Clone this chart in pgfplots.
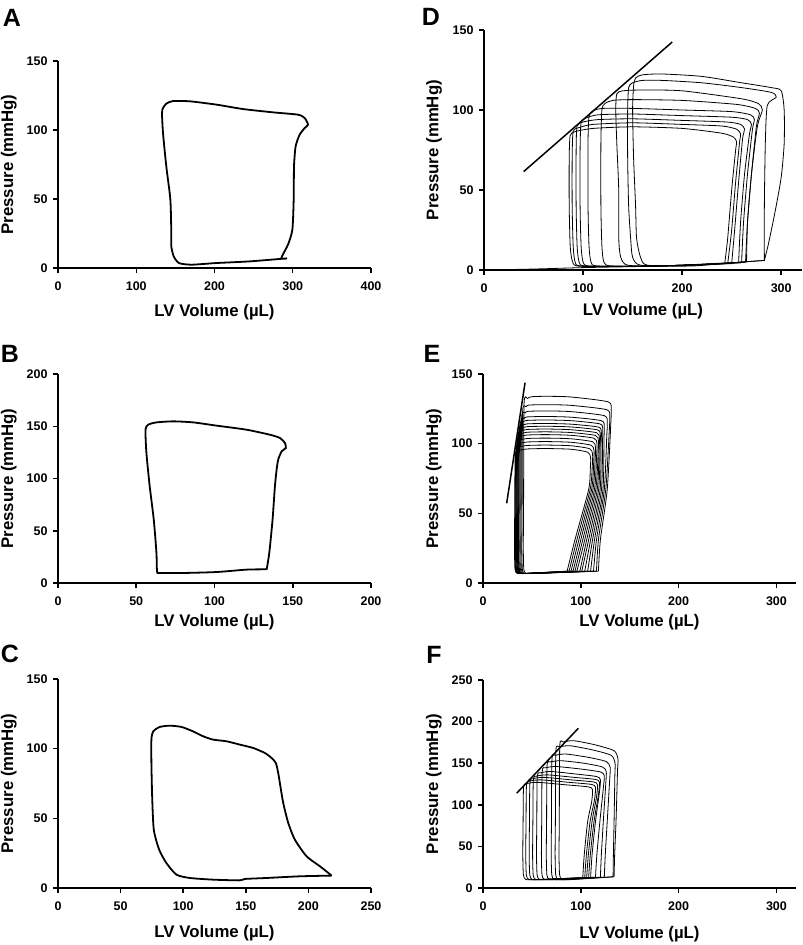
\documentclass[border=0pt]{standalone}
\usepackage{fontspec}
\setmainfont{Liberation Sans}
\usepackage{pgfplots}
\pgfplotsset{compat=1.18}

\pgfplotsset{
  pv/.style={
    scale only axis, anchor=south west,
    axis lines=left, axis line style={-, line width=2pt},
    tick align=outside, major tick length=5pt,
    tick style={line width=1.5pt, black},
    ticklabel style={font=\fontsize{12.5}{12.5}\bfseries\selectfont},
    xticklabel style={yshift=-5pt},
    yticklabel style={xshift=-2pt},
    /pgf/number format/assume math mode=true,
    label style={font=\fontsize{16.8}{17}\bfseries\selectfont},
    xlabel={LV Volume (µL)}, ylabel={Pressure (mmHg)},
    xmin=0, ymin=0, clip=false,
  },
  thick loop/.style={black, line width=1.8pt, smooth, tension=0.4},
  thin loop/.style={black, line width=0.8pt, smooth, tension=0.4},
  espvr/.style={black, line width=1.5pt},
}
\newcommand{\panel}[1]{\fontsize{25}{25}\bfseries\selectfont #1}

\begin{document}
\begin{tikzpicture}
\useasboundingbox (0pt,0pt) rectangle (803pt,-945pt);

% panel letters
\node[inner sep=0] at (12pt,-18pt) {\panel{A}};
\node[inner sep=0] at (431pt,-17pt) {\panel{D}};
\node[inner sep=0] at (10pt,-354pt) {\panel{B}};
\node[inner sep=0] at (432pt,-354pt) {\panel{E}};
\node[inner sep=0] at (10pt,-654pt) {\panel{C}};
\node[inner sep=0] at (434pt,-655pt) {\panel{F}};

% A
\begin{axis}[pv, at={(58pt,-268pt)}, width=313pt, height=207pt,
  xmax=400, ymax=150, xtick={0,100,...,400}, ytick={0,50,...,150},
  xlabel style={at={(axis description cs:0.5,-0.211)}, anchor=center},
  ylabel style={at={(axis description cs:-0.157,0.5)}, anchor=center}]
\addplot[thick loop] coordinates {
 (292.7,7.0) (285.4,7.2) (293.9,16.9) (299.5,27.8) (301.2,49.5) (301.6,73.7)
 (303.7,88.2) (308.8,96.6) (315.2,101.4) (319.5,103.9) (315.2,108.7) (306.7,111.1)
 (274.8,112.8) (236.4,115.2) (202.3,118.4) (168.3,120.8) (147.0,121.0) (138.4,119.1)
 (134.2,115.9) (132.9,112.3) (134.2,97.8) (138.4,73.7) (143.6,49.5) (144.8,25.4)
 (144.8,15.7) (147.8,8.5) (154.6,3.6) (170.4,2.4) (202.3,3.6) (244.9,4.8) (292.7,7.0)};
\end{axis}

% B
\begin{axis}[pv, at={(58pt,-583pt)}, width=313pt, height=209pt,
  xmax=200, ymax=200, xtick={0,50,...,200}, ytick={0,50,...,200},
  xlabel style={at={(axis description cs:0.5,-0.185)}, anchor=center},
  ylabel style={at={(axis description cs:-0.157,0.5)}, anchor=center}]
\addplot[thick loop] coordinates {
 (133.3,12.8) (135.0,28.7) (137.1,60.6) (138.6,92.5) (139.7,108.5) (140.7,118.0)
 (142.9,126.0) (145.6,129.2) (145.0,134.0) (141.8,138.8) (135.4,141.9) (120.5,146.7)
 (101.3,150.6) (86.4,153.7) (73.6,154.7) (62.9,153.7) (57.6,151.5) (55.9,146.7)
 (56.5,124.4) (58.6,92.5) (61.2,60.6) (62.9,28.7) (63.3,11.2) (65.0,9.6)
 (80.0,9.6) (101.3,10.5) (120.5,12.8) (133.3,13.1)};
\end{axis}

% C
\begin{axis}[pv, at={(58pt,-888pt)}, width=313pt, height=209pt,
  xmax=250, ymax=150, xtick={0,50,...,250}, ytick={0,50,...,150},
  xlabel style={at={(axis description cs:0.5,-0.217)}, anchor=center},
  ylabel style={at={(axis description cs:-0.157,0.5)}, anchor=center}]
\addplot[thick loop] coordinates {
 (218.6,8.9) (209.2,15.6) (198.6,22.7) (189.2,34.7) (183.9,46.7) (179.9,61.0)
 (177.2,75.4) (175.9,82.5) (174.0,89.7) (170.6,93.3) (165.2,96.9) (155.9,100.5)
 (145.3,102.9) (134.6,105.3) (123.9,106.5) (115.9,108.9) (107.9,112.4) (98.6,115.6)
 (89.3,116.5) (81.3,115.6) (76.0,112.4) (74.6,106.5) (74.6,89.7) (75.2,65.8)
 (76.5,41.9) (80.8,27.5) (86.6,17.9) (94.6,9.6) (105.3,7.2) (123.9,6.0)
 (145.3,5.5) (149.3,6.5) (166.6,7.2) (193.2,8.4) (218.6,8.9)};
\end{axis}

% D
\begin{axis}[pv, at={(484pt,-270pt)}, width=318pt, height=240pt,
  xmax=321, ymax=150, xtick={0,100,200,300}, ytick={0,50,...,150},
  xlabel style={at={(axis description cs:0.5,-0.170)}, anchor=center},
  ylabel style={at={(axis description cs:-0.157,0.5)}, anchor=center}]
\addplot[thin loop] coordinates {(0,0) (50,0.6) (100,1.5) (160,2.2)};
\addplot[thin loop] coordinates {(243,4) (246,20) (250,50) (254,75) (255,80) (252,83) (240,85.5) (200,88.5) (150,89.5) (110,88.5) (92,86.5) (87,84) (86,70) (86,40) (87,15) (89,6) (94,2.5) (130,2.2) (180,2.5) (220,3.3) (243,4)};
\addplot[thin loop] coordinates {(246,4) (250,25) (254,55) (258,80) (259,85) (255,88) (240,90) (200,91) (150,92) (110,91) (96,89) (90,86.5) (89,70) (89,40) (90,15) (92,5) (98,2.5) (150,2.3) (200,3) (246,4)};
\addplot[thin loop] coordinates {(250,4) (253,25) (257,55) (261,82) (263,88) (259,91) (245,92.5) (200,93.5) (150,94.5) (115,94) (100,92.5) (94,90) (93,75) (93,40) (94,15) (96,5) (102,2.5) (150,2.3) (200,3) (250,4)};
\addplot[thin loop] coordinates {(257,4.5) (259,30) (263,60) (268,85) (270,91) (266,94) (250,95.5) (200,96.5) (150,97.5) (115,97) (103,95) (98,92) (97,75) (97,40) (98,15) (100,5) (106,2.5) (150,2.3) (200,3) (257,4.5)};
\addplot[thin loop] coordinates {(260,4.5) (262,30) (266,60) (271,88) (273,94) (269,97) (250,99) (200,100) (150,101) (120,101) (110,99.5) (106,96) (105,80) (105,40) (106,15) (108,5) (114,2.5) (160,2.3) (210,3.2) (260,4.5)};
\addplot[thin loop] coordinates {(264,5) (266,30) (270,60) (275,90) (278,98) (274,101) (255,103.5) (200,106) (150,106.5) (130,106) (122,104) (119,100) (118,80) (118,40) (119,15) (121,5) (128,2.5) (170,2.3) (220,3.5) (264,5)};
\addplot[thin loop] coordinates {(265,5) (266,30) (270,60) (276,90) (281,100) (277,104) (260,107) (200,112) (160,112.5) (140,112) (134,110) (133,100) (134,80) (136,50) (136,20) (138,8) (145,3) (180,2.5) (230,4) (265,5)};
\addplot[thin loop] coordinates {(283,6) (283,40) (284,80) (286,103) (295,108) (290,111) (260,114) (220,117) (180,118.5) (160,118.5) (150,117) (146,114) (145,100) (145,70) (146,40) (148,20) (150,8) (158,3) (200,2.8) (250,4.5) (283,6)};
\addplot[thin loop] coordinates {(283,6) (287,16) (294,37) (300,58) (303,79) (303,100) (300,112) (290,114) (260,117) (220,121) (180,122.5) (160,122) (153,120) (151,115) (150,100) (151,70) (153,40) (154,20) (158,8) (165,3) (210,2.5) (250,4.5) (283,6)};
\addplot[espvr] coordinates {(40,61.5) (190,142.5)};
\end{axis}

% E
\begin{axis}[pv, at={(483pt,-583pt)}, width=313pt, height=209pt,
  xmax=320, ymax=150, xtick={0,100,200,300}, ytick={0,50,...,150},
  xlabel style={at={(axis description cs:0.5,-0.188)}, anchor=center},
  ylabel style={at={(axis description cs:-0.157,0.5)}, anchor=center}]
\addplot[thin loop] coordinates {(86,8.5)(94,31)(108,67)(109.7,82)(110,90)(107,93.9)(90,96)(65,96.5)(45,96.2)(36.5,95)(33,91.5)(32.5,60)(32.2,25)(32.7,10)(34.5,7.2)(40.5,6.8)(86,8.5)};
\addplot[thin loop] coordinates {(88,8.5)(96,31)(109.5,67)(111.7,84)(112,92.5)(109,96.4)(90,98.5)(65,99)(45,98.7)(37,97.5)(33.5,94)(33,60)(32.7,25)(33.2,10)(35,7.2)(41,6.8)(88,8.5)};
\addplot[thin loop] coordinates {(90,8.5)(98,31)(111,67)(113.2,87)(113.5,95)(110.5,98.9)(90,101)(65,101.5)(45,101.2)(37.5,100)(34,96.5)(33.5,60)(33.2,25)(33.7,10)(35.5,7.2)(41.5,6.8)(90,8.5)};
\addplot[thin loop] coordinates {(92,8.5)(100,31)(112.4,67)(114.7,89)(115,97.5)(112,101.4)(90,103.5)(65,104)(45,103.7)(38,102.5)(34.5,99)(34,60)(33.7,25)(34.2,10)(36,7.2)(42,6.8)(92,8.5)};
\addplot[thin loop] coordinates {(94,8.5)(102,31)(113.9,67)(116.2,92)(116.5,100)(113.5,103.9)(90,106)(65,106.5)(45,106.2)(38.5,105)(35,101.5)(34.5,60)(34.2,25)(34.7,10)(36.5,7.2)(42.5,6.8)(94,8.5)};
\addplot[thin loop] coordinates {(96,8.5)(104,31)(115.3,67)(117.7,94)(118,102)(115,105.9)(90,108)(65,108.5)(45,108.2)(39,107)(35.5,103.5)(35,60)(34.7,25)(35.2,10)(37,7.2)(43,6.8)(96,8.5)};
\addplot[thin loop] coordinates {(99,8.5)(106,31)(116.8,67)(118.7,96)(119,104)(116,107.9)(90,110)(65,110.5)(45,110.2)(39.5,109)(36,105.5)(35.5,60)(35.2,25)(35.7,10)(37.5,7.2)(43.5,6.8)(99,8.5)};
\addplot[thin loop] coordinates {(101,8.5)(108,31)(118.2,67)(119.7,98)(120,106)(117,109.9)(90,112)(65,112.5)(45,112.2)(40,111)(36.5,107.5)(36,60)(35.7,25)(36.2,10)(38,7.2)(44,6.8)(101,8.5)};
\addplot[thin loop] coordinates {(104,8.5)(110,31)(119.7,67)(120.7,100)(121,108)(118,111.9)(90,114)(65,114.5)(45,114.2)(40.5,113)(37,109.5)(36.5,60)(36.2,25)(36.7,10)(38.5,7.2)(44.5,6.8)(104,8.5)};
\addplot[thin loop] coordinates {(107,8.5)(112,31)(121.1,67)(122.2,102)(122.5,110)(119.5,114.2)(90,116.5)(65,117)(45,116.7)(41,115.5)(37.5,112)(37,60)(36.7,25)(37.2,10)(39,7.2)(45,6.8)(107,8.5)};
\addplot[thin loop] coordinates {(110,8.5)(114,31)(122.6,67)(123.7,104)(124,112)(121,116.5)(90,119)(65,119.5)(45,119.2)(42,118)(38.5,114.5)(38,60)(37.7,25)(38.2,10)(40,7.2)(46,6.8)(110,8.5)};
\addplot[thin loop] coordinates {(113,8.5)(116,31)(124,67)(126.5,105)(127,115)(124,120.1)(90,123)(65,123.5)(46,123.2)(43,122)(39.5,118.5)(39,60)(38.7,25)(39.2,10)(41,7.2)(47,6.8)(113,8.5)};
\addplot[thin loop] coordinates {(116,8.5)(118,31)(125.5,67)(129,108)(129.5,119)(126.5,124.4)(90,127.5)(65,128)(47,127.7)(44,126.5)(40.5,123)(40,60)(39.7,25)(40.2,10)(42,7.2)(48,6.8)(116,8.5)};
\addplot[thin loop] coordinates {(118,8.5)(120,31)(127,67)(130.5,112)(131,124)(128,130)(90,133.5)(65,134)(50,133.7)(45.5,132.5)(42,129)(41.5,60)(41.2,25)(41.7,10)(43.5,7.2)(49.5,6.8)(118,8.5)};
\addplot[espvr] coordinates {(24.2,57.2) (43,143.8)};
\end{axis}

% F
\begin{axis}[pv, at={(483pt,-888pt)}, width=313pt, height=208pt,
  xmax=320, ymax=250, xtick={0,100,200,300}, ytick={0,50,...,250},
  xlabel style={at={(axis description cs:0.5,-0.221)}, anchor=center},
  ylabel style={at={(axis description cs:-0.157,0.5)}, anchor=center}]
\addplot[thin loop] coordinates {(102,12.5)(103.5,40)(107,80)(111,103)(112,118)(108,121.5)(85,124)(56,127)(45,125.5)(41.5,121)(41,80)(40.7,40)(41.3,16)(43.5,10.5)(51,10)(102,12.5)};
\addplot[thin loop] coordinates {(104,12.5)(105.7,40)(109.5,80)(114,106)(115,121)(111,124.5)(88,127)(59,130)(48,128.5)(44.5,124)(44,80)(43.7,40)(44.3,16)(46.5,10.5)(54,10)(104,12.5)};
\addplot[thin loop] coordinates {(106,12.5)(107.7,40)(111.5,80)(116,109)(117,124)(113,127.5)(90,130)(62.5,133)(51.5,131.5)(48,127)(47.5,80)(47.2,40)(47.8,16)(50,10.5)(57.5,10)(106,12.5)};
\addplot[thin loop] coordinates {(108,12.5)(109.7,40)(113.5,80)(118,112)(119,127)(115,130.5)(93,133)(66,136)(55,134.5)(51.5,130)(51,80)(50.7,40)(51.3,16)(53.5,10.5)(61,10)(108,12.5)};
\addplot[thin loop] coordinates {(110,12.5)(111.5,40)(115,80)(119,115)(120,130)(116,134)(95,137)(70,140)(59,138.5)(55.5,134)(55,80)(54.7,40)(55.3,16)(57.5,10.5)(65,10)(110,12.5)};
\addplot[thin loop] coordinates {(115,13)(116.4,40)(119.5,80)(123,120)(124,135)(120,139.5)(100,143)(75,146)(64,144.5)(60.5,140)(60,80)(59.7,40)(60.3,16)(62.5,10.5)(70,10)(115,13)};
\addplot[thin loop] coordinates {(120,13)(121,40)(123,80)(125.5,125)(126,140)(122,145.5)(103,150)(80,153)(69,151.5)(65.5,147)(65,80)(64.7,40)(65.3,16)(67.5,10.5)(75,10)(120,13)};
\addplot[thin loop] coordinates {(124,13)(125,40)(127,80)(129.5,130)(130,145)(126,152)(108,157)(85,161)(74,159.5)(70.5,155)(70,80)(69.7,40)(70.3,16)(72.5,10.5)(80,10)(124,13)};
\addplot[thin loop] coordinates {(133,13.5)(133.3,40)(134,80)(134.8,135)(135,150)(131,159.5)(112,166)(89,171)(78,169.5)(74.5,165)(74,80)(73.7,40)(74.3,16)(76.5,10.5)(84,10)(133,13.5)};
\addplot[thin loop] coordinates {(134,13.5)(134.6,40)(136,80)(137.5,140)(138,155)(134,165)(115,172)(93,177)(82,175.5)(78.5,171)(78,80)(77.7,40)(78.3,16)(80.5,10.5)(88,10)(134,13.5)};
\addplot[espvr] coordinates {(34.5,114) (97.5,192)};
\end{axis}
\end{tikzpicture}
\end{document}
